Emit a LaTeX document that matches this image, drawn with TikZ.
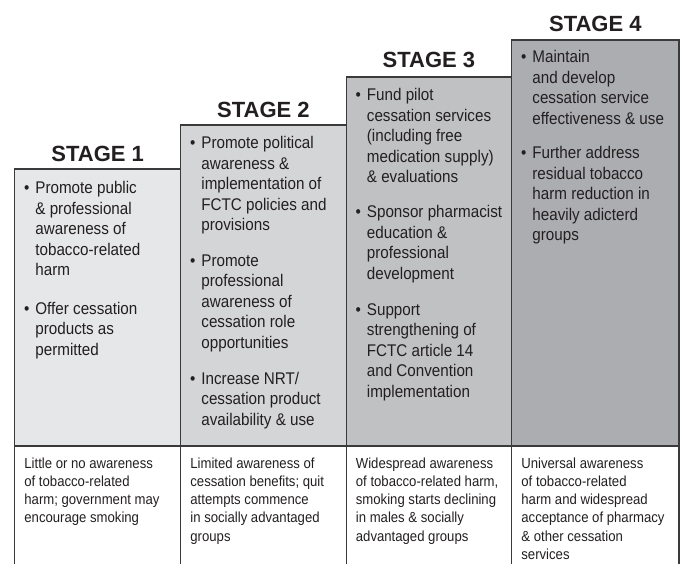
\documentclass[tikz,border=0pt]{standalone}
\usepackage{fontspec}
\setmainfont{Liberation Sans}
\newfontfamily\condfont[FakeStretch=0.9]{Liberation Sans}
\definecolor{ink}{HTML}{231F20}
\definecolor{edgec}{HTML}{3A3A3A}
\definecolor{cA}{HTML}{E6E7E8}
\definecolor{cB}{HTML}{D4D5D7}
\definecolor{cC}{HTML}{C0C1C3}
\definecolor{cD}{HTML}{ABADB0}
\newcommand\putlines[6]{%
  \foreach \mytext [count=\i from 0] in {#6} {%
    \node[#2, anchor=base west] (#1-\i) at (#3, {#4+\i*#5}) {\mytext};}}
\newcommand\putdot[3]{\node[bodytxt, anchor=base] (#1) at (#2,#3) {•};}
\begin{document}
\begin{tikzpicture}[x=1pt,y=-1pt,
  bodytxt/.style={font=\condfont\fontsize{16.9}{20}\selectfont, inner sep=0pt, text=ink},
  foottxt/.style={font=\condfont\fontsize{14.6}{18}\selectfont, inner sep=0pt, text=ink},
  headtxt/.style={font=\bfseries\fontsize{22}{26}\selectfont, inner sep=0pt, text=ink, anchor=base},
  edge/.style={draw=edgec, line width=1.3pt}]
\useasboundingbox (0,0) rectangle (683,564);
% column fills
\fill[cA] (14.7,169) rectangle (180.7,446);
\fill[cB] (180.7,125) rectangle (346.2,446);
\fill[cC] (346.2,77) rectangle (511.7,446);
\fill[cD] (511.7,40) rectangle (679,446);
% outlines
\draw[edge] (14.7,169) rectangle (180.7,446);
\draw[edge] (180.7,125) rectangle (346.2,446);
\draw[edge] (346.2,77) rectangle (511.7,446);
\draw[edge] (511.7,40) rectangle (679,446);
\foreach \xx in {14.7,180.7,346.2,511.7,679} {\draw[edge] (\xx,446) -- (\xx,564);}
% headers
\node[headtxt] (h1) at (97.7,162) {STAGE 1};
\node[headtxt] (h2) at (263.45,118) {STAGE 2};
\node[headtxt] (h3) at (428.95,68) {STAGE 3};
\node[headtxt] (h4) at (595.35,32) {STAGE 4};
% stage 1
\putdot{d11}{26.7}{194}
\putlines{s11}{bodytxt}{35.2}{194}{20.5}{Promote public,\&~professional,awareness of,tobacco-related,harm}
\putdot{d12}{26.7}{314}
\putlines{s12}{bodytxt}{35.2}{314}{20.5}{Offer cessation,products as,permitted}
% stage 2
\putdot{d21}{192.7}{149}
\putlines{s21}{bodytxt}{201.2}{149}{20.5}{Promote political,awareness \&,implementation of,FCTC policies and,provisions}
\putdot{d22}{192.7}{266}
\putlines{s22}{bodytxt}{201.2}{266}{20.5}{Promote,professional,awareness of,cessation role,opportunities}
\putdot{d23}{192.7}{384}
\putlines{s23}{bodytxt}{201.2}{384}{20.5}{Increase NRT/,cessation product,availability \& use}
% stage 3
\putdot{d31}{358.2}{101}
\putlines{s31}{bodytxt}{366.7}{101}{20.5}{Fund pilot,cessation services,{(including free},medication supply),\& evaluations}
\putdot{d32}{358.2}{218}
\putlines{s32}{bodytxt}{366.7}{218}{20.5}{Sponsor pharmacist,education \&,professional,development}
\putdot{d33}{358.2}{315}
\putlines{s33}{bodytxt}{366.7}{315}{20.5}{Support,strengthening of,FCTC article 14,and Convention,implementation}
% stage 4
\putdot{d41}{523.7}{63}
\putlines{s41}{bodytxt}{532.2}{63}{20.5}{Maintain,and develop,cessation service,effectiveness \& use}
\putdot{d42}{523.7}{159}
\putlines{s42}{bodytxt}{532.2}{159}{20.5}{Further address,residual tobacco,harm reduction in,heavily adicterd,groups}
% footer texts
\putlines{f1}{foottxt}{24.2}{468}{18.3}{Little or no awareness,of tobacco-related,harm; government may,encourage smoking}
\putlines{f2}{foottxt}{190.2}{468}{18.3}{Limited awareness of,cessation benefits; quit,attempts commence,in socially advantaged,groups}
\putlines{f3}{foottxt}{355.7}{468}{18.3}{Widespread awareness,{of tobacco-related harm,},smoking starts declining,in males \& socially,advantaged groups}
\putlines{f4}{foottxt}{521.2}{468}{18.3}{Universal awareness,of tobacco-related,harm and widespread,acceptance of pharmacy,\& other cessation,services}
\end{tikzpicture}
\end{document}
